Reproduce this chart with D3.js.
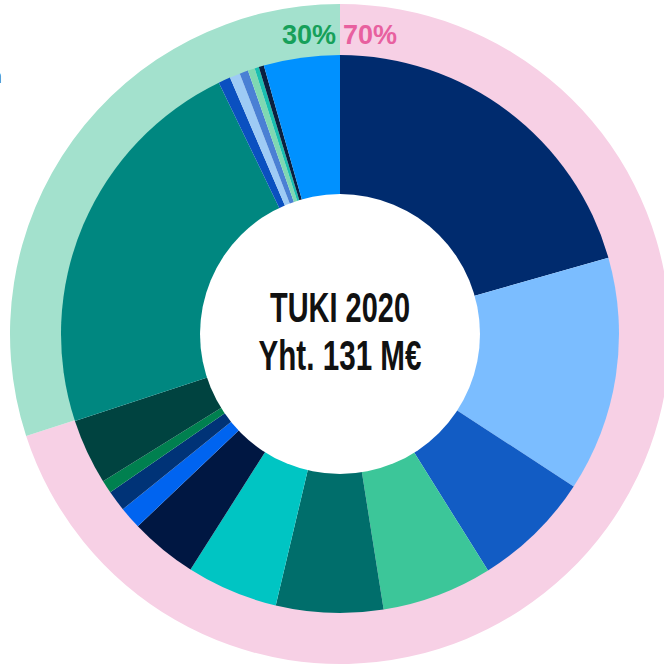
<!DOCTYPE html>
<html>
<head>
<meta charset="utf-8">
<script src="https://cdn.jsdelivr.net/npm/d3@7"></script>
<style>
  html, body { margin: 0; padding: 0; background: #fff; }
  svg { display: block; }
</style>
</head>
<body>
<svg></svg>
<script>
/* slice shares (%), clockwise from 12 o'clock */
var sliceValues = [20.6, 13.6, 6.9, 6.4, 6.2, 5.3, 3.9, 1.3, 1.2, 0.75, 3.8,
                   22.9, 0.7, 0.6, 0.5, 0.4, 0.25, 0.3, 4.4];
var sliceColors = ['#002b6e', '#7bbdff', '#125cc4', '#3cc699', '#006e6b', '#00c5c3',
                   '#001742', '#0064f0', '#003377', '#00804f', '#004340',
                   '#008780', '#0a50c0', '#9ecbf5', '#4a80d4', '#7fd8b2', '#19bfb0',
                   '#0a2040', '#0091ff'];

/* outer ring split */
var ringValues = [70, 30];
var ringLabels = ['70%', '30%'];
var ringColors = ['#f7d0e5', '#a3e1cd'];
var ringTextColors = ['#e8609f', '#16a05a'];

var titleLines = ['TUKI 2020', 'Yht. 131 M\u20ac'];

/* layout */
var svgWidth = 664;
var svgHeight = 665;
var cx = 340, cy = 334;
var rHole = 140, rPie = 279, rRing = 330;

var svg = d3.select('svg')
    .attr('width', svgWidth)
    .attr('height', svgHeight);

var g = svg.append('g')
    .attr('transform', translate(cx, cy));

var pie = d3.pie().sort(null).value(function(d){ return d; });

// outer ring
var ringArc = d3.arc().innerRadius(rPie - 1).outerRadius(rRing);
g.selectAll('path.ring')
    .data(pie(ringValues))
    .enter()
    .append('path')
    .attr('class', 'ring')
    .attr('d', ringArc)
    .attr('fill', function(d, i){ return ringColors[i]; });

// inner pie
var sliceArc = d3.arc().innerRadius(0).outerRadius(rPie);
g.selectAll('path.slice')
    .data(pie(sliceValues))
    .enter()
    .append('path')
    .attr('class', 'slice')
    .attr('d', sliceArc)
    .attr('fill', function(d, i){ return sliceColors[i]; });

// hole
g.append('circle')
    .attr('r', rHole)
    .attr('fill', '#fff');

// ring percentages at the top
var pctFont = 'Liberation Sans Narrow, Arial Narrow, sans-serif';
g.append('text')
    .attr('x', 3)
    .attr('y', -290)
    .attr('text-anchor', 'start')
    .attr('font-family', pctFont)
    .attr('font-weight', 700)
    .attr('font-size', 27)
    .attr('fill', ringTextColors[0])
    .text(ringLabels[0]);

g.append('text')
    .attr('x', -4)
    .attr('y', -290)
    .attr('text-anchor', 'end')
    .attr('font-family', pctFont)
    .attr('font-weight', 700)
    .attr('font-size', 27)
    .attr('fill', ringTextColors[1])
    .text(ringLabels[1]);

// centre title
var titleWidths = [140, 163];
titleLines.forEach(function(line, i){
  g.append('text')
      .attr('x', 0)
      .attr('y', -12 + i * 48)
      .attr('text-anchor', 'middle')
      .attr('font-family', 'Liberation Sans Narrow, Arial Narrow, sans-serif')
      .attr('font-weight', 700)
      .attr('font-size', 43)
      .attr('textLength', titleWidths[i])
      .attr('lengthAdjust', 'spacingAndGlyphs')
      .attr('fill', '#111')
      .text(line);
});

// clipped label at the left edge
svg.append('text')
    .attr('x', 2)
    .attr('y', 83)
    .attr('text-anchor', 'end')
    .attr('font-family', 'Open Sans, sans-serif')
    .attr('font-size', 20)
    .attr('fill', '#111')
    .text('n');

function translate(x, y) {
  return 'translate(' + x + ',' + y + ')';
}
</script>
</body>
</html>
